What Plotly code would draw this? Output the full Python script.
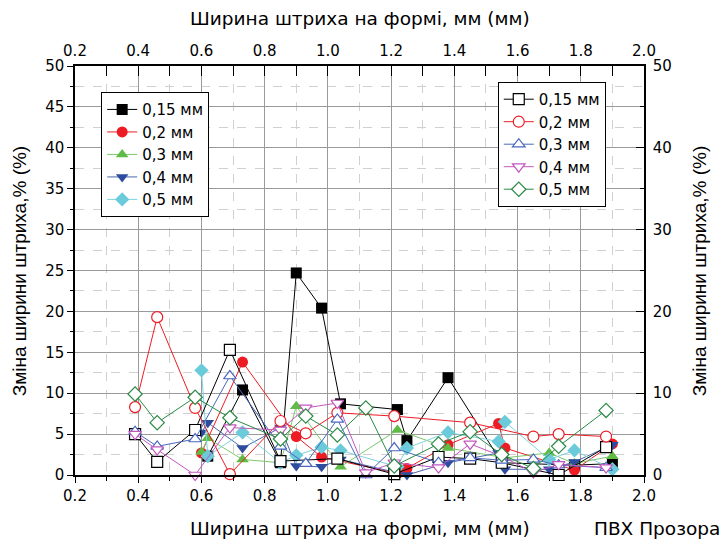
import plotly.graph_objects as go

# ---- Filled series (bottom x-axis / left y-axis) ----
f015_x = [0.62, 0.73, 0.85, 0.90, 0.98, 1.04, 1.22, 1.25, 1.38, 1.55, 1.78, 1.90]
f015_y = [2.3, 10.4, 1.5, 24.7, 20.4, 8.7, 8.0, 4.2, 11.9, 1.5, 1.2, 1.4]

f02_x = [0.60, 0.73, 0.90, 0.98, 1.22, 1.25, 1.38, 1.54, 1.56, 1.78, 1.90]
f02_y = [2.7, 13.8, 4.7, 2.2, 0.2, 0.8, 3.7, 6.3, 3.3, 0.6, 3.8]

f03_x = [0.60, 0.62, 0.73, 0.85, 0.90, 1.04, 1.22, 1.38, 1.56, 1.70, 1.78, 1.90]
f03_y = [2.8, 4.5, 1.9, 1.5, 8.4, 1.0, 5.5, 3.3, 2.1, 2.7, 1.4, 2.3]

f04_x = [0.60, 0.62, 0.73, 0.85, 0.90, 0.98, 1.04, 1.25, 1.38, 1.54, 1.56, 1.70, 1.78, 1.90]
f04_y = [5.2, 6.4, 3.3, 5.8, 1.1, 1.0, 1.9, 0.0, 1.5, 2.7, 0.7, 0.7, 1.6, 3.7]

f05_x = [0.60, 0.62, 0.73, 0.85, 0.90, 0.98, 1.04, 1.22, 1.25, 1.38, 1.54, 1.56, 1.70, 1.78, 1.90]
f05_y = [12.8, 2.3, 5.2, 1.5, 2.4, 3.4, 3.0, 1.0, 3.3, 5.2, 4.1, 6.5, 1.9, 3.0, 0.7]

# ---- Open series (top x-axis / right y-axis) ----
o015_x = [0.39, 0.46, 0.58, 0.69, 0.85, 1.03, 1.21, 1.35, 1.45, 1.55, 1.73, 1.88]
o015_y = [5.0, 1.6, 5.5, 15.3, 1.7, 2.0, 0.1, 2.2, 2.0, 1.5, 0.0, 3.4]

o02_x = [0.39, 0.46, 0.58, 0.69, 0.85, 0.93, 1.03, 1.21, 1.45, 1.65, 1.73, 1.88]
o02_y = [8.3, 19.3, 8.2, 0.1, 6.6, 5.1, 7.6, 7.2, 6.4, 4.7, 5.0, 4.7]

o03_x = [0.39, 0.46, 0.58, 0.69, 0.85, 0.93, 1.03, 1.12, 1.21, 1.35, 1.45, 1.55, 1.65, 1.73, 1.88]
o03_y = [5.3, 3.5, 4.4, 12.1, 3.5, 1.4, 6.8, 0.0, 3.3, 1.5, 2.1, 1.8, 1.9, 1.2, 0.9]

o04_x = [0.39, 0.46, 0.58, 0.69, 0.85, 0.93, 1.03, 1.12, 1.21, 1.35, 1.45, 1.55, 1.65, 1.73, 1.88]
o04_y = [5.0, 3.1, 0.0, 5.8, 5.5, 8.2, 8.8, 0.3, 1.5, 0.9, 3.8, 2.3, 0.3, 1.3, 0.9]

o05_x = [0.39, 0.46, 0.58, 0.69, 0.85, 0.93, 1.03, 1.12, 1.21, 1.35, 1.45, 1.55, 1.65, 1.73, 1.88]
o05_y = [9.9, 6.4, 9.5, 7.0, 4.4, 7.2, 4.9, 8.2, 1.1, 3.8, 5.3, 2.5, 0.8, 3.5, 7.9]

names = ["0,15 мм", "0,2 мм", "0,3 мм", "0,4 мм", "0,5 мм"]

filled = [
    (f015_x, f015_y, "#000000", "#000000", "square"),
    (f02_x, f02_y, "#ED1C24", "#ED1C24", "circle"),
    (f03_x, f03_y, "#5DBB46", "#7CC86A", "triangle-up"),
    (f04_x, f04_y, "#2E4C9E", "#4A66B0", "triangle-down"),
    (f05_x, f05_y, "#6BCBDB", "#7FD3E0", "diamond"),
]
opened = [
    (o015_x, o015_y, "#000000", "square"),
    (o02_x, o02_y, "#ED1C24", "circle"),
    (o03_x, o03_y, "#4A68BE", "triangle-up"),
    (o04_x, o04_y, "#C257BE", "triangle-down"),
    (o05_x, o05_y, "#2A8A45", "diamond"),
]

fig = go.Figure()

for (x, y, mc, lc, sym), nm in zip(filled, names):
    fig.add_trace(go.Scatter(
        x=x, y=y, mode="lines+markers", name=nm, legend="legend",
        line=dict(color=lc, width=1),
        marker=dict(symbol=sym, size=11, color=mc, line=dict(width=0)),
        cliponaxis=False,
    ))

for (x, y, c, sym), nm in zip(opened, names):
    fig.add_trace(go.Scatter(
        x=x, y=y, mode="lines+markers", name=nm, legend="legend2",
        xaxis="x2", yaxis="y2",
        line=dict(color=c, width=1),
        marker=dict(symbol=sym, size=11, color="white", line=dict(color=c, width=1.2)),
        cliponaxis=False,
    ))

FONT = "DejaVu Sans, Arial, sans-serif"
VFONT = "Liberation Sans, Arial, sans-serif"
tickfont = dict(family=FONT, size=15, color="black")

fig.update_layout(
    width=724, height=545,
    margin=dict(l=75, r=80, t=66, b=70),
    paper_bgcolor="white", plot_bgcolor="white",
    font=dict(family=FONT, size=15, color="black"),
    xaxis=dict(
        range=[0.2, 2.0], tick0=0.2, dtick=0.2, tickformat=".1f",
        ticks="outside", ticklen=6, tickwidth=1.3, tickcolor="black",
        showline=True, linecolor="black", linewidth=1.5,
        showgrid=True, gridcolor="#9a9a9a", gridwidth=1, zeroline=False,
        tickfont=tickfont,
        minor=dict(dtick=0.1, ticks="outside", ticklen=4, tickcolor="black",
                   showgrid=True, gridcolor="#d0d0d0", griddash="dash"),
    ),
    yaxis=dict(
        range=[0, 50], tick0=0, dtick=5,
        ticks="outside", ticklen=6, tickwidth=1.3, tickcolor="black",
        showline=True, linecolor="black", linewidth=1.5,
        showgrid=True, gridcolor="#9a9a9a", gridwidth=1, zeroline=False,
        tickfont=tickfont,
        minor=dict(dtick=2.5, ticks="outside", ticklen=3, tickcolor="black",
                   showgrid=True, gridcolor="#d0d0d0", griddash="dash"),
    ),
    xaxis2=dict(
        overlaying="x", side="top", anchor="y",
        range=[0.2, 2.0], tick0=0.2, dtick=0.2, tickformat=".1f",
        ticks="inside", ticklen=10, tickwidth=1.3, tickcolor="black",
        showline=True, linecolor="black", linewidth=1.5,
        showgrid=False, zeroline=False, tickfont=tickfont, ticklabelstandoff=2,
        minor=dict(dtick=0.1, ticks="inside", ticklen=10, tickcolor="black", showgrid=False),
    ),
    yaxis2=dict(
        overlaying="y", side="right", anchor="x",
        range=[0, 50], tick0=0, dtick=10,
        ticks="inside", ticklen=8, tickwidth=1.3, tickcolor="black",
        showline=True, linecolor="black", linewidth=1.5,
        showgrid=False, zeroline=False, tickfont=tickfont, ticklabelstandoff=4,
        minor=dict(dtick=5, ticks="inside", ticklen=4, tickcolor="black", showgrid=False),
    ),
    legend=dict(
        x=0.046, y=0.936, xanchor="left", yanchor="top",
        bgcolor="white", bordercolor="black", borderwidth=1,
        font=dict(family=FONT, size=15, color="black"),
        tracegroupgap=0, itemwidth=30,
    ),
    legend2=dict(
        x=0.743, y=0.961, xanchor="left", yanchor="top",
        bgcolor="white", bordercolor="black", borderwidth=1,
        font=dict(family=FONT, size=15, color="black"),
        tracegroupgap=0, itemwidth=30,
    ),
    showlegend=True,
)

title_font = dict(family=FONT, size=18.5, color="black")
vtitle_font = dict(family=VFONT, size=19, color="black")
fig.add_annotation(text="Ширина штриха на формі, мм (мм)", xref="paper", yref="paper",
                   x=0.5, y=1.116, showarrow=False, font=title_font,
                   xanchor="center", yanchor="middle")
fig.add_annotation(text="Ширина штриха на формі, мм (мм)", xref="paper", yref="paper",
                   x=0.5, y=-0.132, showarrow=False, font=title_font,
                   xanchor="center", yanchor="middle")
fig.add_annotation(text="ПВХ Прозора", xref="paper", yref="paper",
                   x=1.022, y=-0.132, showarrow=False, font=title_font,
                   xanchor="center", yanchor="middle")
fig.add_annotation(text="Зміна ширини штриха,% (%)", xref="paper", yref="paper",
                   x=-0.097, y=0.5, showarrow=False, font=vtitle_font, textangle=-90,
                   xanchor="center", yanchor="middle")
fig.add_annotation(text="Зміна ширини штриха,% (%)", xref="paper", yref="paper",
                   x=1.098, y=0.5, showarrow=False, font=vtitle_font, textangle=-90,
                   xanchor="center", yanchor="middle")

fig.write_html("out.html")
